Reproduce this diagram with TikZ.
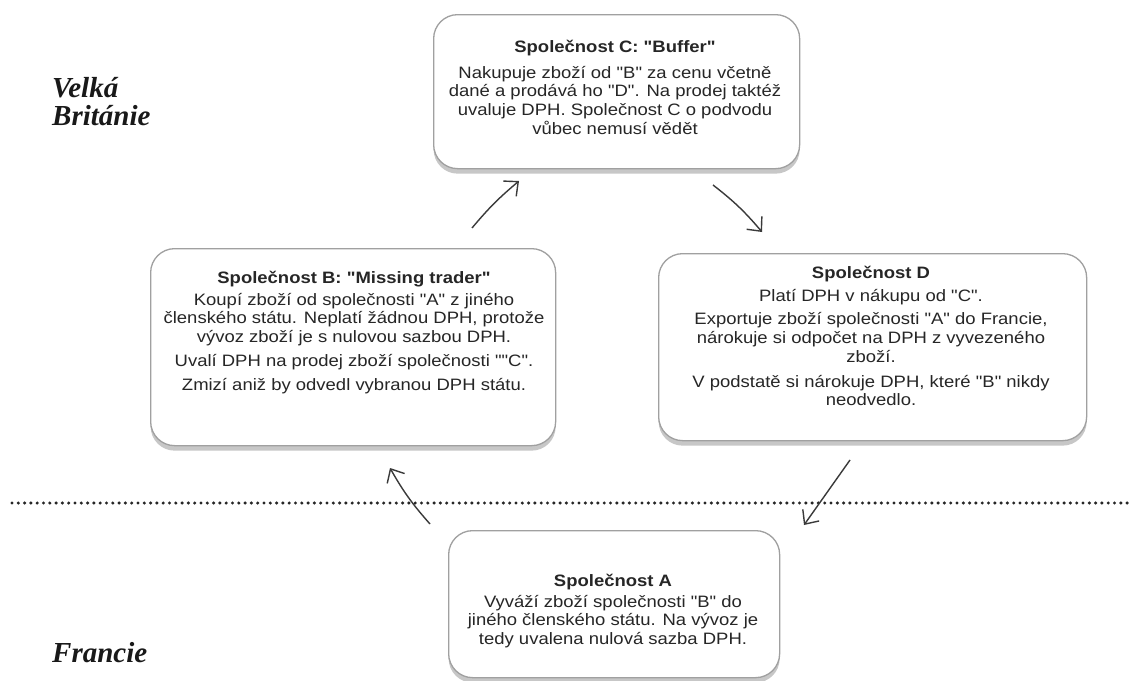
\documentclass[tikz,border=0pt]{standalone}
\usepackage{fontspec}
\setmainfont{Liberation Sans}
\newfontfamily\bodyfont{Liberation Sans}[FakeStretch=1.12]
\newfontfamily\labelfont{Liberation Serif}
\usetikzlibrary{arrows.meta,shadows}
\definecolor{boxline}{HTML}{A0A0A0}
\definecolor{arrowcol}{HTML}{3A3A3A}
\tikzset{
  box/.style={draw=boxline, line width=1.3pt, rounded corners=24pt, fill=white,
    drop shadow={shadow xshift=0pt, shadow yshift=-5pt, fill=gray!80, opacity=0.55},
    inner sep=0pt, anchor=north west},
  txt/.style={align=center, inner sep=0pt, anchor=north, text=black!85,
    font=\bodyfont\fontsize{16.5}{18.7}\selectfont},
  lbl/.style={inner sep=0pt, anchor=base west, text=black!90,
    font=\labelfont\bfseries\itshape\fontsize{29}{31}\selectfont},
  arr/.style={draw=arrowcol, line width=1.4pt,
    -{Straight Barb[length=11pt,width=20pt,line width=1.4pt]}},
  dotline/.style={draw=black!85, line width=3.4pt, dash pattern=on 0pt off 6.3pt, line cap=round}
}
\begin{document}
\begin{tikzpicture}[x=1pt,y=-1pt]
\useasboundingbox (0,0) rectangle (1132,680);
\fill[white] (0,0) rectangle (1132,680);

% dotted border line
\coordinate (dl) at (12,503);
\coordinate (dr) at (1132,503);
\draw[dotline] (dl) -- (dr);

% boxes
\node[box, minimum width=366pt, minimum height=154pt] (C) at (433,14) {};
\node[box, minimum width=405pt, minimum height=197pt] (B) at (150,248) {};
\node[box, minimum width=428pt, minimum height=187pt] (D) at (658,253) {};
\node[box, minimum width=331pt, minimum height=147pt] (A) at (448,530) {};

% texts
\node[txt] (Ct) at (615,40) {\textbf{Společnost C: "Buffer"}\\[7pt]
Nakupuje zboží od "B" za cenu včetně\\
dané a prodává ho "D". Na prodej taktéž\\
uvaluje DPH. Společnost C o podvodu\\
vůbec nemusí vědět};

\node[txt] (Bt) at (354,271) {\textbf{Společnost B: "Missing trader"}\\[3pt]
Koupí zboží od společnosti "A" z jiného\\
členského státu. Neplatí žádnou DPH, protože\\
vývoz zboží je s nulovou sazbou DPH.\\[5pt]
Uvalí DPH na prodej zboží společnosti ""C".\\[5pt]
Zmizí aniž by odvedl vybranou DPH státu.};

\node[txt] (Dt) at (871,266) {\textbf{Společnost D}\\[4pt]
Platí DPH v nákupu od "C".\\[5pt]
Exportuje zboží společnosti "A" do Francie,\\
nárokuje si odpočet na DPH z vyvezeného\\
zboží.\\[6pt]
V podstatě si nárokuje DPH, které "B" nikdy\\
neodvedlo.};

\node[txt] (At) at (613,574) {\textbf{Společnost A}\\[2pt]
Vyváží zboží společnosti "B" do\\
jiného členského státu. Na vývoz je\\
tedy uvalena nulová sazba DPH.};

% country labels
\node[lbl] (gb1) at (52,97) {Velká};
\node[lbl] (gb2) at (52,125) {Británie};
\node[lbl] (fr) at (52,662) {Francie};

% arrows
\coordinate (bc1) at (472,228);
\coordinate (bc2) at (519,181);
\coordinate (cd1) at (713,185);
\coordinate (cd2) at (762,232);
\coordinate (da1) at (850,460);
\coordinate (da2) at (804,525);
\coordinate (ab1) at (430,524);
\coordinate (ab2) at (390,468);
\draw[arr] (bc1) to[bend left=5] (bc2);
\draw[arr] (cd1) to[bend left=6] (cd2);
\draw[arr] (da1) -- (da2);
\draw[arr] (ab1) to[bend left=6] (ab2);
\end{tikzpicture}
\end{document}
